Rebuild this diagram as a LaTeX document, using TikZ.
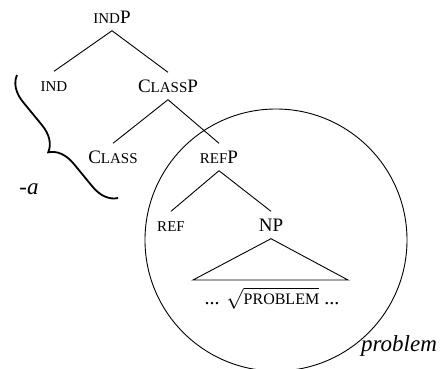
\documentclass[tikz,border=0pt]{standalone}
\usepackage{fontspec}
\setmainfont{Liberation Serif}
\usetikzlibrary{decorations.pathreplacing}
% fake small caps
\newcommand{\fsc}[1]{{\fontsize{15}{15}\selectfont #1}}

\begin{document}
\begin{tikzpicture}[x=1pt,y=-1pt,
    lbl/.style={inner sep=0pt, text height=13pt, text depth=0pt, minimum height=27pt, font=\fontsize{19}{19}\selectfont},
    branch/.style={line width=0.9pt}]
    \useasboundingbox (0,0) rectangle (442,368);

    % Tree
    \node[lbl] (indp) at (112,17) {\fsc{IND}P};
    \node[lbl] (ind) at (54,85) {\fsc{IND}};
    \node[lbl] (classp) at (168,86) {C\fsc{LASS}P};
    \node[lbl] (class) at (113,157) {C\fsc{LASS}};
    \node[lbl] (refp) at (219,157) {\fsc{REF}P};
    \node[lbl] (ref) at (171,225) {\fsc{REF}};
    \node[lbl] (np) at (271,225) {NP};

    \draw[branch] (indp.south) -- (ind.north);
    \draw[branch] (indp.south) -- (classp.north);
    \draw[branch] (classp.south) -- (class.north);
    \draw[branch] (classp.south) -- (refp.north);
    \draw[branch] (refp.south) -- (ref.north);
    \draw[branch] (refp.south) -- (np.north);

    % Triangle under NP
    \coordinate (bl) at (193,280);
    \coordinate (br) at (348,280);
    \draw[branch] (np.south) -- (bl) -- (br) -- cycle;
    \node[lbl, font=\fontsize{20}{20}\selectfont] (root) at (272,298) {... $\sqrt{\mbox{\fontsize{16}{16}\selectfont PROBLEM}}$ ...};

    % Brace over the functional part
    \draw[decorate, decoration={brace, amplitude=25pt}, line width=1.8pt] (118,198) -- (17,75);
    \node[font=\fontsize{23}{23}\selectfont\itshape] (affix) at (29,189) {-a};

    % Circle round the root part
    \draw[branch] (276,240) circle[radius=131pt];
    \node[font=\fontsize{23}{23}\selectfont\itshape] (word) at (399,346) {problem};
\end{tikzpicture}
\end{document}
